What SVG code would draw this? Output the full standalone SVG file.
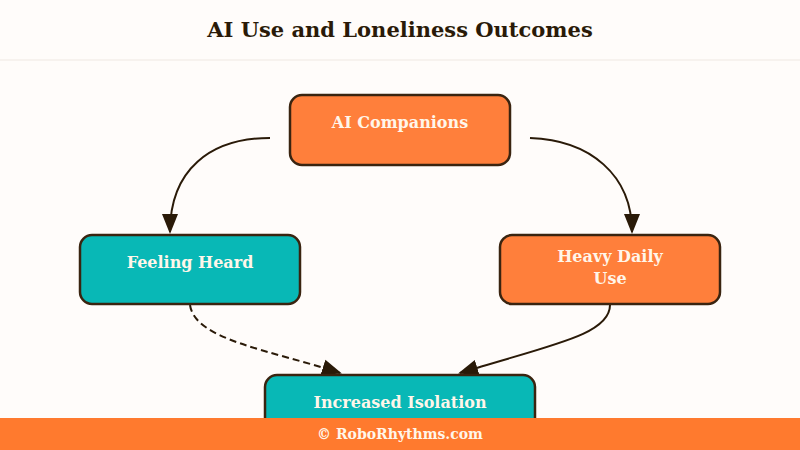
<svg xmlns="http://www.w3.org/2000/svg" width="800" height="450" viewBox="0 0 800 450">
<style>
.node{stroke:#3a2410;stroke-width:2.5}
.o{fill:#FF7F3B}.t{fill:#08B8B6}
.lbl{font-family:"DejaVu Serif","Liberation Serif",serif;font-weight:bold;font-size:16px;fill:#FFF6EA;text-anchor:middle}
.e{fill:none;stroke:#2a1a08;stroke-width:2}
</style>
<defs>
<marker id="b" viewBox="0 0 10 10" refX="9" refY="5" markerWidth="20" markerHeight="20" orient="auto" markerUnits="userSpaceOnUse"><path d="M0,1L10,5L0,9z" fill="#2a1a08"/></marker></defs>
<rect width="800" height="450" fill="#FFFCFA"/>
<line x1="0" y1="60" x2="800" y2="60" stroke="#EFE8E2"/>
<text x="400" y="37" text-anchor="middle" font-family="DejaVu Serif,serif" font-weight="bold" font-size="21" fill="#2a1a08">AI Use and Loneliness Outcomes</text>
<g id="edges">
<path class="e" d="M270,138 C210,138 170,170 170,232" marker-end="url(#b)"/>
<path class="e" d="M530,138 C590,140 632,175 632,232" marker-end="url(#b)"/>
<path class="e" d="M190,305 C195,340 270,350 340,373" stroke-dasharray="7,4" marker-end="url(#b)"/>
<path class="e" d="M610,305 C610,335 550,345 460,373" marker-end="url(#b)"/>
</g>
<g id="n1"><rect class="node o" x="290" y="95" width="220" height="70" rx="12"/><text class="lbl" x="400" y="128">AI Companions</text></g>
<g id="n2"><rect class="node t" x="80" y="235" width="220" height="69" rx="12"/><text class="lbl" x="190" y="268">Feeling Heard</text></g>
<g id="n3"><rect class="node o" x="500" y="235" width="220" height="69" rx="12"/><text class="lbl" x="610" y="262">Heavy Daily</text><text class="lbl" x="610" y="284">Use</text></g>
<g id="n4"><rect class="node t" x="265" y="375" width="270" height="70" rx="12"/><text class="lbl" x="400" y="408">Increased Isolation</text></g>
<rect x="0" y="418" width="800" height="32" fill="#FF7A2E"/>
<text x="400" y="439" text-anchor="middle" font-family="DejaVu Serif,serif" font-weight="bold" font-size="14" fill="#FFF6EA">© RoboRhythms.com</text>
</svg>
